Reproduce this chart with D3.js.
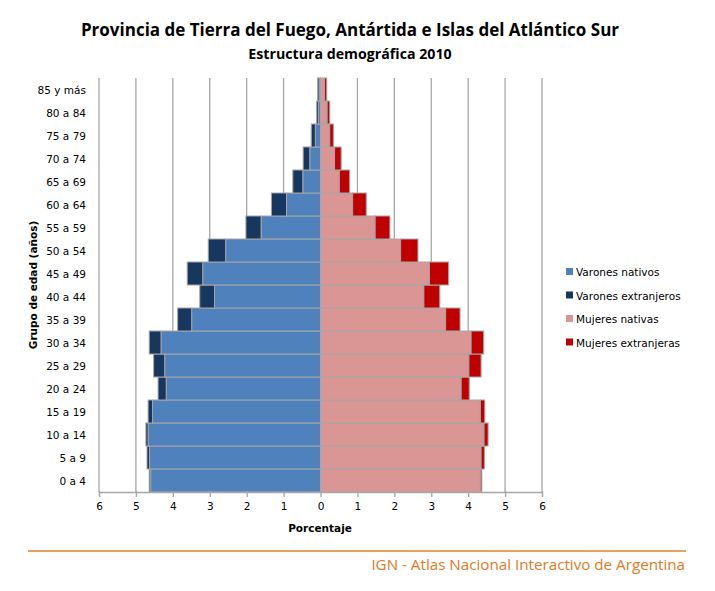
<!DOCTYPE html>
<html><head><meta charset="utf-8">
<script src="https://cdn.jsdelivr.net/npm/d3@7"></script>
<style>body{margin:0;background:#fff}svg{display:block}</style>
</head><body>
<svg id="c" width="715" height="591"></svg>
<script>
const ageGroups = ["0 a 4","5 a 9","10 a 14","15 a 19","20 a 24","25 a 29","30 a 34","35 a 39","40 a 44","45 a 49","50 a 54","55 a 59","60 a 64","65 a 69","70 a 74","75 a 79","80 a 84","85 y más"];
const varonesNativos     = [4.60,4.63,4.67,4.55,4.18,4.22,4.32,3.49,2.87,3.19,2.57,1.61,0.92,0.48,0.29,0.14,0.06,0.04];
const varonesExtranjeros = [0.04,0.07,0.06,0.12,0.22,0.30,0.32,0.38,0.40,0.42,0.47,0.41,0.41,0.27,0.18,0.11,0.05,0.04];
const mujeresNativas     = [4.33,4.35,4.43,4.33,3.81,4.02,4.08,3.39,2.80,2.95,2.17,1.48,0.87,0.51,0.38,0.25,0.18,0.11];
const mujeresExtranjeras = [0.04,0.09,0.11,0.12,0.22,0.33,0.34,0.39,0.43,0.52,0.47,0.40,0.37,0.28,0.18,0.10,0.07,0.06];
const xTicks = [-6,-5,-4,-3,-2,-1,0,1,2,3,4,5,6];
const seriesNames = ["Varones nativos","Varones extranjeros","Mujeres nativas","Mujeres extranjeras"];
const seriesColors = ["#4f81bd","#17375e","#d99694","#c00000"];

const svg = d3.select("#c");
const plot = {left: 99, right: 542, top: 78, bottom: 492};
const x = d3.scaleLinear().domain([-6, 6]).range([plot.left, plot.right]);
const y = d3.scaleBand().domain(ageGroups.slice().reverse()).range([plot.top, plot.bottom]).padding(0);

// Titles
svg.append("text").attr("x", 350).attr("y", 36).attr("text-anchor","middle")
  .attr("font-family","'Open Sans', sans-serif").attr("font-weight","bold")
  .attr("font-size", 17).attr("fill","#000")
  .text("Provincia de Tierra del Fuego, Antártida  e Islas del Atlántico Sur");
svg.append("text").attr("x", 350).attr("y", 59).attr("text-anchor","middle")
  .attr("font-family","'Open Sans', sans-serif").attr("font-weight","bold")
  .attr("font-size", 14.2).attr("fill","#000")
  .text("Estructura demográfica 2010");

// Vertical gridlines
svg.append("g").selectAll("line").data(xTicks).join("line")
  .attr("x1", d => x(d)).attr("x2", d => x(d))
  .attr("y1", plot.top).attr("y2", plot.bottom)
  .attr("stroke", "#a6a6a6").attr("stroke-width", 1.3);

// Bars
const rows = ageGroups.map((g,i) => ({g, vn: varonesNativos[i], ve: varonesExtranjeros[i], mn: mujeresNativas[i], me: mujeresExtranjeras[i]}));
const segs = [];
rows.forEach(r => {
  segs.push({g: r.g, x0: -r.vn, x1: 0, c: seriesColors[0]});
  segs.push({g: r.g, x0: -(r.vn + r.ve), x1: -r.vn, c: seriesColors[1]});
  segs.push({g: r.g, x0: 0, x1: r.mn, c: seriesColors[2]});
  segs.push({g: r.g, x0: r.mn, x1: r.mn + r.me, c: seriesColors[3]});
});
svg.append("g").selectAll("rect").data(segs).join("rect")
  .attr("x", d => x(d.x0)).attr("width", d => x(d.x1) - x(d.x0))
  .attr("y", d => y(d.g)).attr("height", y.bandwidth())
  .attr("fill", d => d.c).attr("stroke", "#a6a6a6").attr("stroke-width", 1);

// Y axis labels
svg.append("g").selectAll("text").data(ageGroups).join("text")
  .attr("x", 86).attr("y", d => y(d) + y.bandwidth()/2 + 4)
  .attr("text-anchor","end").attr("font-family","'DejaVu Sans', Verdana, sans-serif")
  .attr("font-size", 10.5).attr("fill","#000").text(d => d);

// X axis
const xAxis = d3.axisBottom(x).tickValues(xTicks).tickFormat(d => Math.abs(d)).tickSize(5).tickPadding(6);
const gx = svg.append("g").attr("transform", `translate(0,${plot.bottom})`).call(xAxis);
gx.select(".domain").attr("stroke","#a6a6a6").attr("stroke-width",1.3);
gx.selectAll(".tick line").attr("stroke","#a6a6a6").attr("stroke-width",1.3).attr("y1",-1);
gx.selectAll(".tick text").attr("font-family","'DejaVu Sans', Verdana, sans-serif").attr("font-size",10.5).attr("fill","#000");

// Axis titles
svg.append("text").attr("x", 320).attr("y", 532).attr("text-anchor","middle")
  .attr("font-family","'DejaVu Sans', Verdana, sans-serif").attr("font-weight","bold").attr("font-size",10.5)
  .text("Porcentaje");
svg.append("text").attr("transform","translate(37,285) rotate(-90)").attr("text-anchor","middle")
  .attr("font-family","'DejaVu Sans', Verdana, sans-serif").attr("font-weight","bold").attr("font-size",10.5)
  .text("Grupo de edad (años)");

// Legend
const lg = svg.append("g");
seriesNames.forEach((n,i) => {
  const yy = 273 + i*23.5;
  lg.append("rect").attr("x", 566).attr("y", yy-5).attr("width",7).attr("height",7).attr("fill", seriesColors[i]);
  lg.append("text").attr("x", 576).attr("y", yy+3).attr("font-family","'DejaVu Sans', Verdana, sans-serif")
    .attr("font-size",10.5).attr("fill","#000").text(n);
});

// Footer
svg.append("line").attr("x1",28).attr("x2",686).attr("y1",551).attr("y2",551)
  .attr("stroke","#e0822a").attr("stroke-width",1.5);
svg.append("text").attr("x",685).attr("y",570).attr("text-anchor","end")
  .attr("font-family","'Open Sans', 'Noto Sans', sans-serif").attr("font-size",15.2).attr("fill","#de7a1f")
  .text("IGN - Atlas Nacional Interactivo de Argentina");
</script>
</body></html>
